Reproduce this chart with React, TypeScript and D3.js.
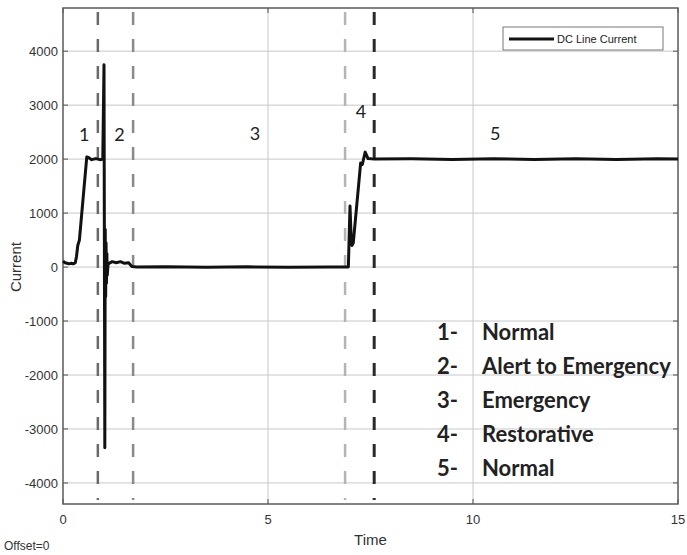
import React from 'react';
import * as d3 from 'd3';

// DC line current trace (time in s, current in A)
const traceTime = [
  0, 0.05, 0.1, 0.15, 0.2, 0.25, 0.3, 0.33, 0.36, 0.4, 0.58, 0.62, 0.7, 0.8, 0.9, 0.97,
  1.0, 1.02, 1.03, 1.04, 1.05, 1.06, 1.07, 1.08, 1.1, 1.2, 1.3, 1.4, 1.5, 1.6, 1.68, 1.8,
  2.5, 3.5, 4.5, 5.5, 6.5, 6.96, 7.0, 7.03, 7.05, 7.08, 7.26, 7.3, 7.37, 7.44, 7.6,
  8.5, 9.5, 10.5, 11.5, 12.5, 13.5, 14.5, 15,
];
const traceValue = [
  110, 80, 70, 60, 70, 60, 80, 200, 400, 500, 2040, 2030, 1990, 2010, 1990, 2000,
  3750, -3350, 700, -550, 450, -300, 250, -150, 60, 100, 80, 100, 70, 80, 10, 0,
  5, -5, 5, -5, 0, 0, 1130, 500, 400, 450, 1930, 1900, 2130, 2010, 2000,
  2005, 1995, 2005, 1995, 2005, 1995, 2005, 2000,
];

// state boundaries (dashed markers)
const boundaryTime = [0.85, 1.71, 6.88, 7.59];
const boundaryColor = ['#6a6a6a', '#8a8a8a', '#b4b4b4', '#2a2a2a'];

// state numbers placed over the trace
const stateLabel = ['1', '2', '3', '4', '5'];
const stateLabelTime = [0.52, 1.38, 4.68, 7.27, 10.54];
const stateLabelValue = [2460, 2460, 2480, 2900, 2480];

// state list
const stateNumber = ['1-', '2-', '3-', '4-', '5-'];
const stateName = ['Normal', 'Alert to Emergency', 'Emergency', 'Restorative', 'Normal'];

const xTicks = [0, 5, 10, 15];
const yTicks = [-4000, -3000, -2000, -1000, 0, 1000, 2000, 3000, 4000];

const W = 687;
const H = 555;
const m = { left: 63, right: 9, top: 8, bottom: 51 };

export default function App() {
  const x = d3.scaleLinear().domain([0, 15]).range([m.left, W - m.right]);
  const y = d3.scaleLinear().domain([-4390, 4800]).range([H - m.bottom, m.top]);

  const pts: [number, number][] = traceTime.map((t, i) => [t, traceValue[i]]);
  const line = d3.line<[number, number]>().x(d => x(d[0])).y(d => y(d[1]));

  const x0 = x.range()[0], x1 = x.range()[1];
  const y0 = y.range()[0], y1 = y.range()[1];
  const axisFont = '"Liberation Sans", Arial, sans-serif';
  const labelFont = 'Lato, "Open Sans", sans-serif';

  return (
    <svg width={W} height={H} style={{ position: 'absolute', left: 0, top: 0, background: '#fff' }}>
      {/* grid */}
      <g stroke="#c8c8c8" strokeWidth={1}>
        {yTicks.map(v => <line key={'gy' + v} x1={x0} x2={x1} y1={y(v)} y2={y(v)} />)}
        {xTicks.slice(1, -1).map(v => <line key={'gx' + v} x1={x(v)} x2={x(v)} y1={y1} y2={y0} />)}
      </g>
      {/* inner ticks */}
      <g stroke="#555" strokeWidth={1}>
        {yTicks.map(v => <line key={'ry' + v} x1={x1 - 5} x2={x1} y1={y(v)} y2={y(v)} />)}
        {yTicks.map(v => <line key={'ly' + v} x1={x0} x2={x0 + 5} y1={y(v)} y2={y(v)} />)}
        {xTicks.map(v => <line key={'bx' + v} x1={x(v)} x2={x(v)} y1={y0} y2={y0 - 5} />)}
        {xTicks.map(v => <line key={'tx' + v} x1={x(v)} x2={x(v)} y1={y1} y2={y1 + 5} />)}
      </g>
      {/* frame */}
      <rect x={x0} y={y1} width={x1 - x0} height={y0 - y1} fill="none" stroke="#5a5a5a" strokeWidth={1.5} />

      {/* state boundaries */}
      {boundaryTime.map((t, i) => (
        <line key={'b' + i} x1={x(t)} x2={x(t)} y1={y1 + 4} y2={y0 - 4}
          stroke={boundaryColor[i]} strokeWidth={i === 3 ? 3 : 2.5} strokeDasharray="13,14" />
      ))}

      {/* trace */}
      <path d={line(pts) || ''} fill="none" stroke="#111" strokeWidth={3} strokeLinejoin="round" />

      {/* state numbers */}
      {stateLabel.map((s, i) => (
        <text key={'s' + i} x={x(stateLabelTime[i])} y={y(stateLabelValue[i])} textAnchor="middle"
          dominantBaseline="central" fontFamily={labelFont} fontSize={18} fill="#222">{s}</text>
      ))}

      {/* state list */}
      {stateName.map((s, i) => (
        <g key={'n' + i} fontFamily={labelFont} fontWeight={700} fontSize={22} fill="#222">
          <text x={458} y={340 + i * 34} textAnchor="end">{stateNumber[i]}</text>
          <text x={482} y={340 + i * 34}>{s}</text>
        </g>
      ))}

      {/* legend */}
      <rect x={503} y={27} width={160} height={23} fill="#fff" stroke="#777" strokeWidth={1} />
      <line x1={509} x2={554} y1={39} y2={39} stroke="#111" strokeWidth={3} />
      <text x={557} y={43} fontFamily={axisFont} fontSize={11} fill="#222">DC Line Current</text>

      {/* axis labels */}
      {yTicks.map(v => (
        <text key={'yl' + v} x={x0 - 5} y={y(v)} dy="0.35em" textAnchor="end" fontFamily={axisFont}
          fontSize={13} fill="#333">{v}</text>
      ))}
      {xTicks.map(v => (
        <text key={'xl' + v} x={x(v)} y={y0 + 20} textAnchor="middle" fontFamily={axisFont}
          fontSize={13} fill="#333">{v}</text>
      ))}
      <text x={(x0 + x1) / 2} y={545} textAnchor="middle" fontFamily={axisFont} fontSize={15} fill="#333">Time</text>
      <text transform={`translate(21,${y(0)}) rotate(-90)`} textAnchor="middle" fontFamily={axisFont}
        fontSize={15} fill="#333">Current</text>
      <text x={4} y={550} fontFamily={axisFont} fontSize={12} fill="#333">Offset=0</text>
    </svg>
  );
}
